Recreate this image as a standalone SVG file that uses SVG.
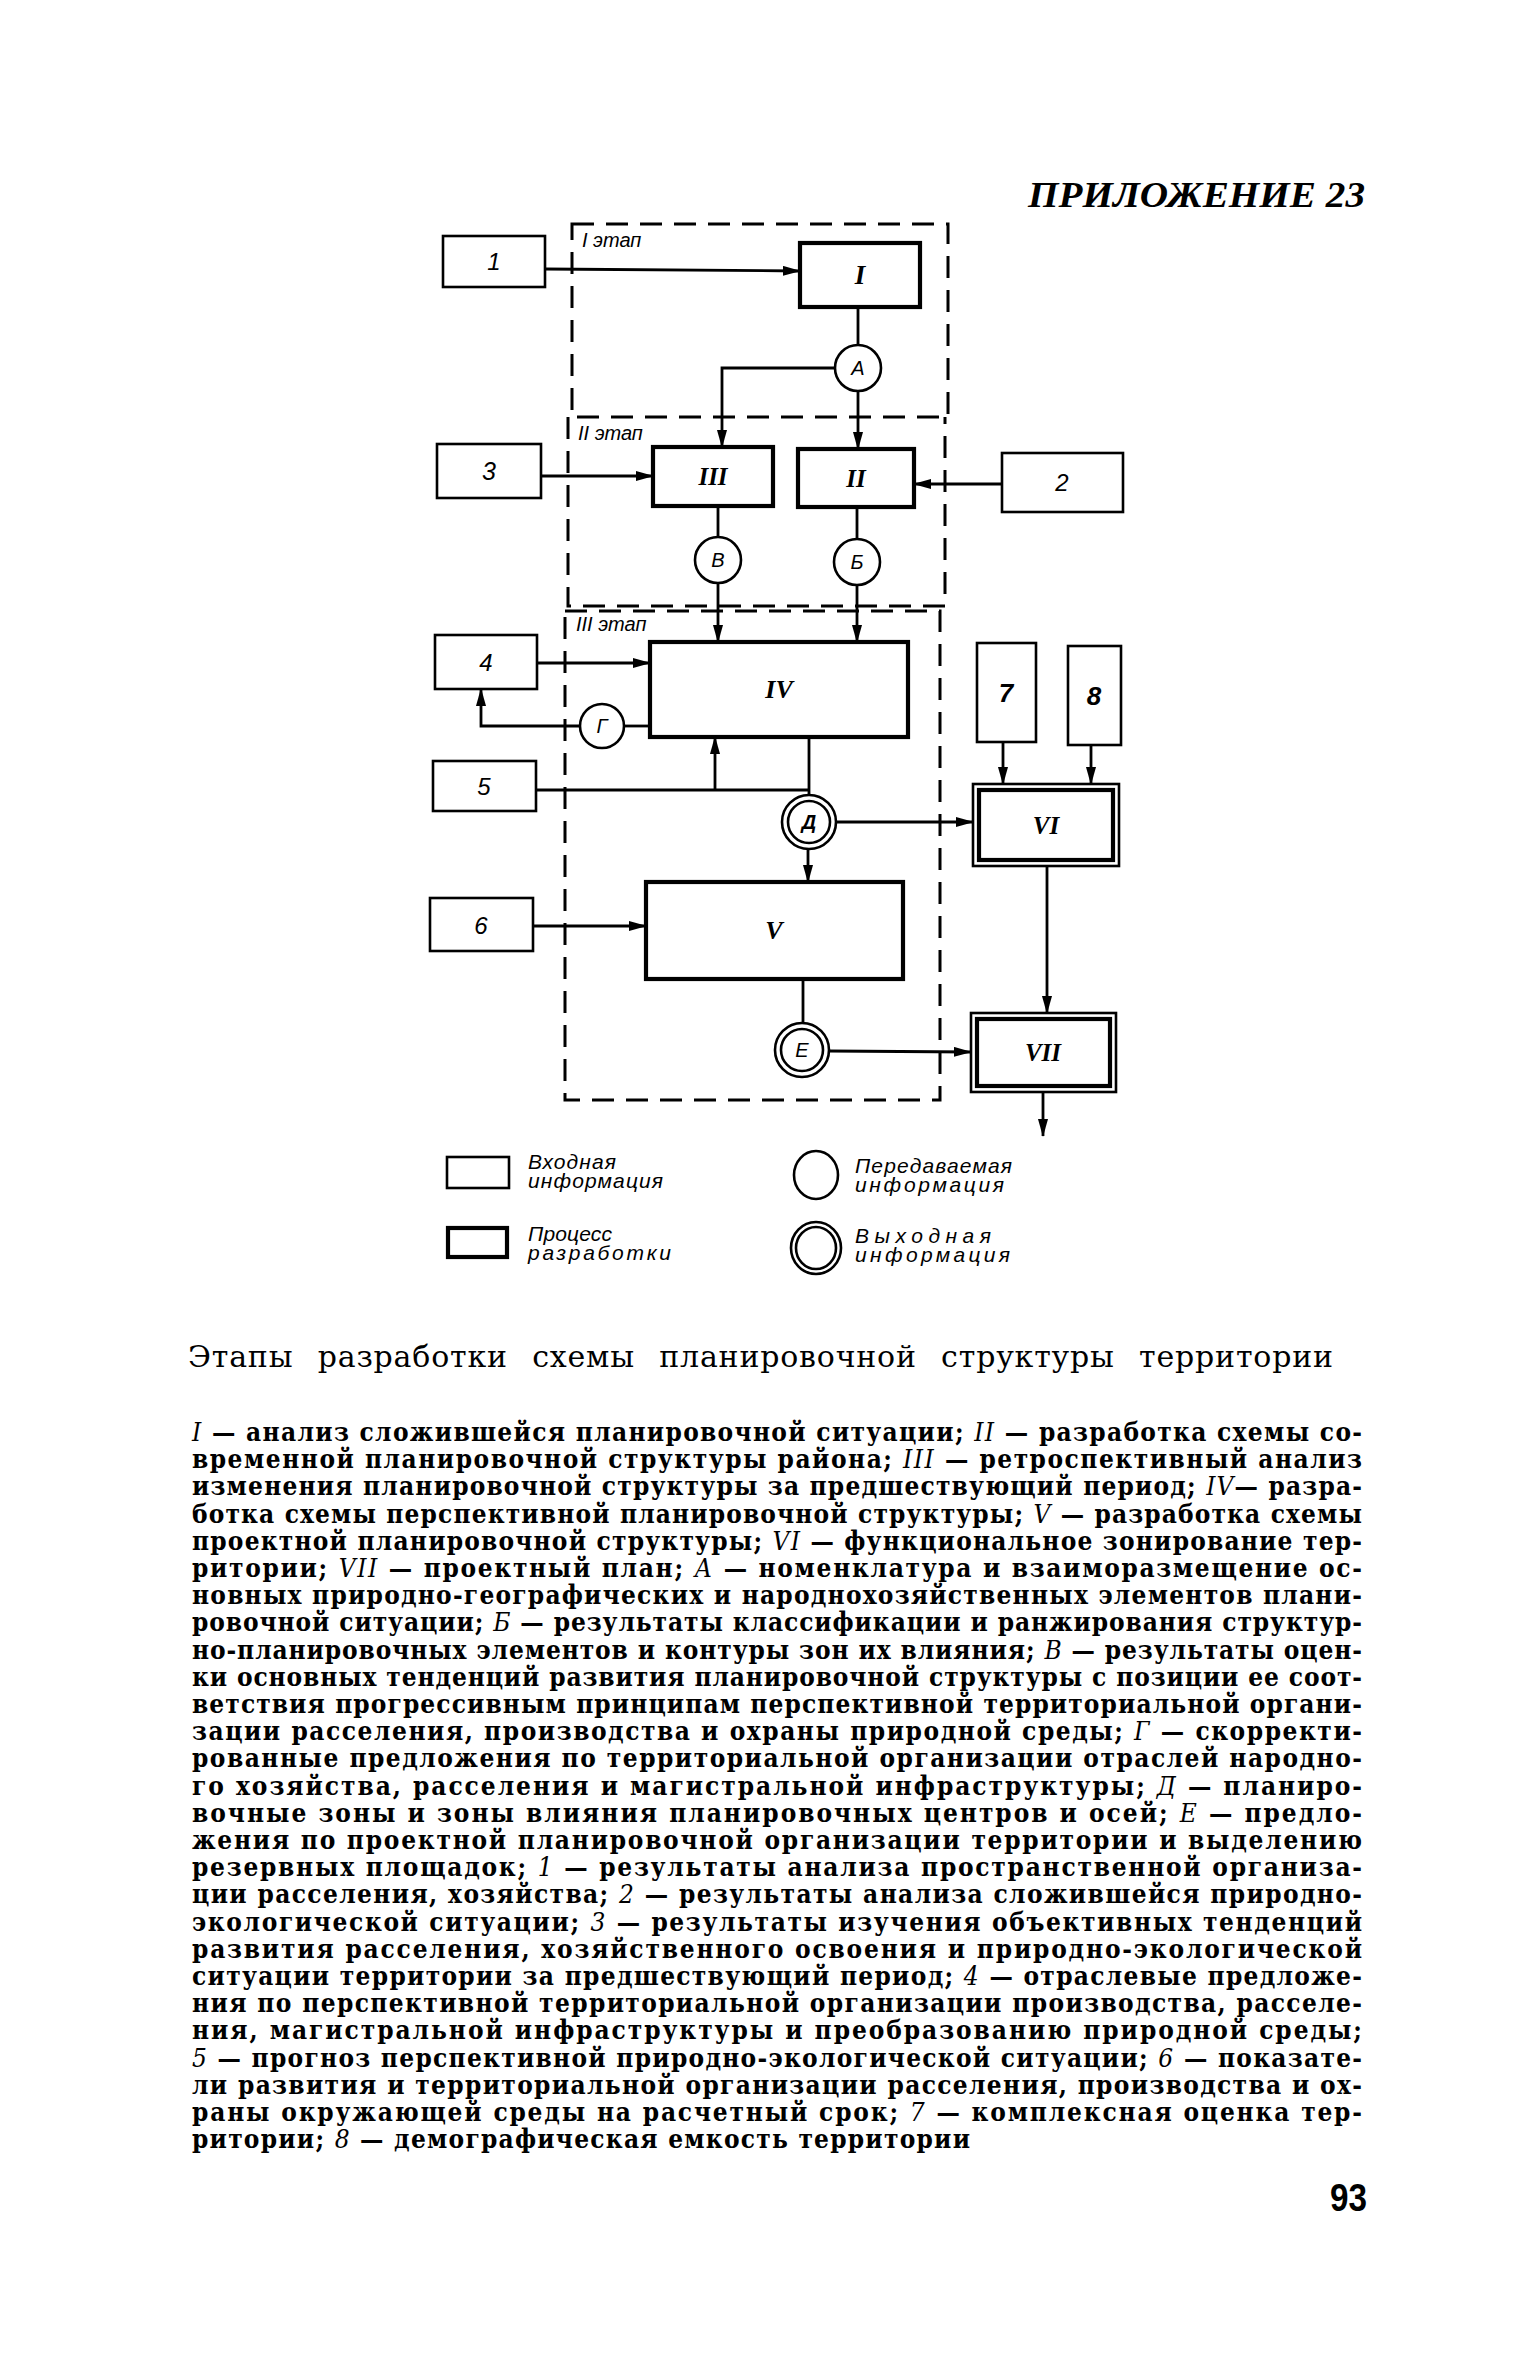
<svg xmlns="http://www.w3.org/2000/svg" width="1535" height="2362" viewBox="0 0 1535 2362">
<defs>
<style>
.thin{fill:none;stroke:#000;stroke-width:2.6}
.thick{fill:none;stroke:#000;stroke-width:4.2}
.dash{fill:none;stroke:#000;stroke-width:3;stroke-dasharray:22 12}
.conn{fill:none;stroke:#000;stroke-width:2.8}
.arr{marker-end:url(#ah)}
.lbl{font-family:"Liberation Sans",Arial,sans-serif;font-style:italic;text-anchor:middle;fill:#000}
.rom{font-family:"Liberation Serif","Times New Roman",serif;font-style:italic;font-weight:bold;text-anchor:middle;fill:#000}
.stg{font-family:"Liberation Sans",Arial,sans-serif;font-style:italic;font-size:20px;fill:#000}
.leg{font-family:"Liberation Sans",Arial,sans-serif;font-style:italic;font-size:21px;fill:#000}
.body{font-family:"DejaVu Serif Condensed","DejaVu Serif",serif;font-stretch:condensed;font-weight:bold;font-size:26px;fill:#000}
.it{font-style:italic;font-weight:normal}
</style>
<marker id="ah" viewBox="0 0 18 10" refX="17" refY="5" markerWidth="18" markerHeight="10" markerUnits="userSpaceOnUse" orient="auto"><path d="M0,0 L18,5 L0,10 z" fill="#000"/></marker>
</defs>
<rect width="1535" height="2362" fill="#fff"/>

<text x="1028" y="207" font-family="Liberation Serif,serif" font-style="italic" font-weight="bold" font-size="35" textLength="337" lengthAdjust="spacingAndGlyphs">ПРИЛОЖЕНИЕ 23</text>

<g id="stages">
<rect class="dash" x="572" y="224" width="376" height="193"/>
<path class="dash" d="M568,417 L568,606 L945,606 L945,417"/>
<rect class="dash" x="565" y="611" width="375" height="489"/>
<text class="stg" x="582" y="247">I этап</text>
<text class="stg" x="578" y="440">II этап</text>
<text class="stg" x="576" y="631">III этап</text>
</g>

<g id="connectors">
<path class="conn arr" d="M545,269 L800,271"/>
<path class="conn" d="M858,307 L858,345"/>
<path class="conn arr" d="M835,368 L722,368 L722,447"/>
<path class="conn arr" d="M858,391 L858,449"/>
<path class="conn arr" d="M541,476 L653,476"/>
<path class="conn arr" d="M1002,484 L914,484"/>
<path class="conn" d="M718,506 L718,537"/>
<path class="conn arr" d="M718,583 L718,642"/>
<path class="conn" d="M857,507 L857,539"/>
<path class="conn arr" d="M857,585 L857,642"/>
<path class="conn arr" d="M537,663 L650,663"/>
<path class="conn" d="M650,726 L624,726"/>
<path class="conn arr" d="M580,726 L481,726 L481,689"/>
<path class="conn" d="M536,790 L809,790"/>
<path class="conn arr" d="M715,790 L715,737"/>
<path class="conn" d="M809,737 L809,795"/>
<path class="conn arr" d="M836,822 L973,822"/>
<path class="conn arr" d="M808,849 L808,882"/>
<path class="conn arr" d="M533,926 L646,926"/>
<path class="conn" d="M803,979 L803,1023"/>
<path class="conn arr" d="M829,1051 L971,1052"/>
<path class="conn arr" d="M1003,742 L1003,784"/>
<path class="conn arr" d="M1091,745 L1091,784"/>
<path class="conn arr" d="M1047,866 L1047,1013"/>
<path class="conn arr" d="M1043,1092 L1043,1136"/>
</g>

<g id="in1"><rect class="thin" x="443" y="236" width="102" height="51"/><text class="lbl" x="494" y="270" font-size="24">1</text></g>
<g id="pI"><rect class="thick" x="800" y="243" width="120" height="64"/><text class="rom" x="860" y="284" font-size="27">I</text></g>
<g id="in3"><rect class="thin" x="437" y="444" width="104" height="54"/><text class="lbl" x="489" y="480" font-size="25">3</text></g>
<g id="pIII"><rect class="thick" x="653" y="447" width="120" height="59"/><text class="rom" x="713" y="485" font-size="25">III</text></g>
<g id="pII"><rect class="thick" x="798" y="449" width="116" height="58"/><text class="rom" x="856" y="487" font-size="25">II</text></g>
<g id="in2"><rect class="thin" x="1002" y="453" width="121" height="59"/><text class="lbl" x="1062" y="491" font-size="24">2</text></g>
<g id="in4"><rect class="thin" x="435" y="635" width="102" height="54"/><text class="lbl" x="486" y="671" font-size="24">4</text></g>
<g id="pIV"><rect class="thick" x="650" y="642" width="258" height="95"/><text class="rom" x="779" y="698" font-size="26">IV</text></g>
<g id="in5"><rect class="thin" x="433" y="761" width="103" height="50"/><text class="lbl" x="484" y="795" font-size="24">5</text></g>
<g id="in6"><rect class="thin" x="430" y="898" width="103" height="53"/><text class="lbl" x="481" y="934" font-size="24">6</text></g>
<g id="pV"><rect class="thick" x="646" y="882" width="257" height="97"/><text class="rom" x="774" y="939" font-size="26">V</text></g>
<g id="in7"><rect class="thin" x="977" y="643" width="59" height="99"/><text class="lbl" x="1006" y="702" font-size="26" font-weight="bold">7</text></g>
<g id="in8"><rect class="thin" x="1068" y="646" width="53" height="99"/><text class="lbl" x="1094" y="705" font-size="26" font-weight="bold">8</text></g>
<g id="oVI"><rect class="thin" x="973" y="784" width="146" height="82"/><rect class="thick" x="979" y="790" width="134" height="70"/><text class="rom" x="1046" y="834" font-size="25">VI</text></g>
<g id="oVII"><rect class="thin" x="971" y="1013" width="145" height="79"/><rect class="thick" x="977" y="1019" width="133" height="67"/><text class="rom" x="1043" y="1061" font-size="25">VII</text></g>

<g id="cA"><circle class="thin" cx="858" cy="368" r="23"/><text class="lbl" x="858" y="375" font-size="20">А</text></g>
<g id="cB6"><circle class="thin" cx="857" cy="562" r="23"/><text class="lbl" x="857" y="569" font-size="20">Б</text></g>
<g id="cV"><circle class="thin" cx="718" cy="560" r="23"/><text class="lbl" x="718" y="567" font-size="20">В</text></g>
<g id="cG"><circle class="thin" cx="602" cy="726" r="22"/><text class="lbl" x="602" y="733" font-size="20">Г</text></g>
<g id="cD"><circle class="thin" cx="809" cy="822" r="27"/><circle class="thin" cx="809" cy="822" r="21"/><text class="lbl" x="809" y="829" font-size="20" font-weight="bold">Д</text></g>
<g id="cE"><circle class="thin" cx="802" cy="1050" r="27"/><circle class="thin" cx="802" cy="1050" r="21"/><text class="lbl" x="802" y="1057" font-size="20">Е</text></g>

<g id="legend">
<rect class="thin" x="447" y="1157" width="62" height="31"/>
<rect class="thick" x="448" y="1228" width="59" height="29"/>
<ellipse class="thin" cx="816" cy="1175" rx="22" ry="24"/>
<ellipse class="thin" cx="816" cy="1248" rx="25" ry="26"/>
<ellipse class="thin" cx="816" cy="1248" rx="20" ry="21"/>
<text class="leg" x="528" y="1169" textLength="88">Входная</text>
<text class="leg" x="528" y="1188" textLength="135">информация</text>
<text class="leg" x="528" y="1241" textLength="84">Процесс</text>
<text class="leg" x="528" y="1260" textLength="143">разработки</text>
<text class="leg" x="855" y="1173" textLength="157">Передаваемая</text>
<text class="leg" x="855" y="1192" textLength="149">информация</text>
<text class="leg" x="855" y="1243" textLength="136">Выходная</text>
<text class="leg" x="855" y="1262" textLength="155">информация</text>
</g>

<text x="188" y="1367" font-family="DejaVu Serif,serif" font-size="30" word-spacing="14" textLength="1145" lengthAdjust="spacing">Этапы разработки схемы планировочной структуры территории</text>

<g class="body">
<text x="192" y="1441" textLength="1170" lengthAdjust="spacing"><tspan class="it">I</tspan> — анализ сложившейся планировочной ситуации; <tspan class="it">II</tspan> — разработка схемы со-</text>
<text x="192" y="1468.2" textLength="1170" lengthAdjust="spacing">временной планировочной структуры района; <tspan class="it">III</tspan> — ретроспективный анализ</text>
<text x="192" y="1495.4" textLength="1170" lengthAdjust="spacing">изменения планировочной структуры за предшествующий период; <tspan class="it">IV</tspan>— разра-</text>
<text x="192" y="1522.6" textLength="1170" lengthAdjust="spacing">ботка схемы перспективной планировочной структуры; <tspan class="it">V</tspan> — разработка схемы</text>
<text x="192" y="1549.8" textLength="1170" lengthAdjust="spacing">проектной планировочной структуры; <tspan class="it">VI</tspan> — функциональное зонирование тер-</text>
<text x="192" y="1577" textLength="1170" lengthAdjust="spacing">ритории; <tspan class="it">VII</tspan> — проектный план; <tspan class="it">А</tspan> — номенклатура и взаиморазмещение ос-</text>
<text x="192" y="1604.2" textLength="1170" lengthAdjust="spacing">новных природно-географических и народнохозяйственных элементов плани-</text>
<text x="192" y="1631.4" textLength="1170" lengthAdjust="spacing">ровочной ситуации; <tspan class="it">Б</tspan> — результаты классификации и ранжирования структур-</text>
<text x="192" y="1658.6" textLength="1170" lengthAdjust="spacing">но-планировочных элементов и контуры зон их влияния; <tspan class="it">В</tspan> — результаты оцен-</text>
<text x="192" y="1685.8" textLength="1170" lengthAdjust="spacing">ки основных тенденций развития планировочной структуры с позиции ее соот-</text>
<text x="192" y="1713" textLength="1170" lengthAdjust="spacing">ветствия прогрессивным принципам перспективной территориальной органи-</text>
<text x="192" y="1740.2" textLength="1170" lengthAdjust="spacing">зации расселения, производства и охраны природной среды; <tspan class="it">Г</tspan> — скорректи-</text>
<text x="192" y="1767.4" textLength="1170" lengthAdjust="spacing">рованные предложения по территориальной организации отраслей народно-</text>
<text x="192" y="1794.6" textLength="1170" lengthAdjust="spacing">го хозяйства, расселения и магистральной инфраструктуры; <tspan class="it">Д</tspan> — планиро-</text>
<text x="192" y="1821.8" textLength="1170" lengthAdjust="spacing">вочные зоны и зоны влияния планировочных центров и осей; <tspan class="it">Е</tspan> — предло-</text>
<text x="192" y="1849" textLength="1170" lengthAdjust="spacing">жения по проектной планировочной организации территории и выделению</text>
<text x="192" y="1876.2" textLength="1170" lengthAdjust="spacing">резервных площадок; <tspan class="it">1</tspan> — результаты анализа пространственной организа-</text>
<text x="192" y="1903.4" textLength="1170" lengthAdjust="spacing">ции расселения, хозяйства; <tspan class="it">2</tspan> — результаты анализа сложившейся природно-</text>
<text x="192" y="1930.6" textLength="1170" lengthAdjust="spacing">экологической ситуации; <tspan class="it">3</tspan> — результаты изучения объективных тенденций</text>
<text x="192" y="1957.8" textLength="1170" lengthAdjust="spacing">развития расселения, хозяйственного освоения и природно-экологической</text>
<text x="192" y="1985" textLength="1170" lengthAdjust="spacing">ситуации территории за предшествующий период; <tspan class="it">4</tspan> — отраслевые предложе-</text>
<text x="192" y="2012.2" textLength="1170" lengthAdjust="spacing">ния по перспективной территориальной организации производства, расселе-</text>
<text x="192" y="2039.4" textLength="1170" lengthAdjust="spacing">ния, магистральной инфраструктуры и преобразованию природной среды;</text>
<text x="192" y="2066.6" textLength="1170" lengthAdjust="spacing"><tspan class="it">5</tspan> — прогноз перспективной природно-экологической ситуации; <tspan class="it">6</tspan> — показате-</text>
<text x="192" y="2093.8" textLength="1170" lengthAdjust="spacing">ли развития и территориальной организации расселения, производства и ох-</text>
<text x="192" y="2121" textLength="1170" lengthAdjust="spacing">раны окружающей среды на расчетный срок; <tspan class="it">7</tspan> — комплексная оценка тер-</text>
<text x="192" y="2148.2" textLength="778" lengthAdjust="spacing">ритории; <tspan class="it">8</tspan> — демографическая емкость территории</text>
</g>

<text x="1330" y="2211" font-family="Liberation Sans,Arial,sans-serif" font-weight="bold" font-size="39" textLength="37" lengthAdjust="spacingAndGlyphs">93</text>
</svg>
